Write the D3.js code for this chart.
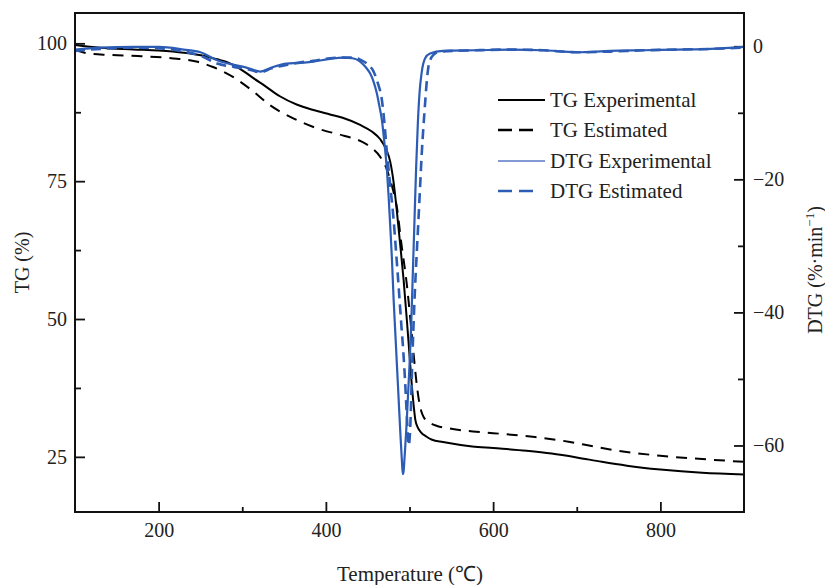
<!DOCTYPE html>
<html>
<head>
<meta charset="utf-8">
<script src="https://cdn.jsdelivr.net/npm/d3@7"></script>
<style>
  html, body { margin: 0; padding: 0; background: #fff; }
  svg { display: block; }
  text { font-family: "Liberation Serif", "Times New Roman", serif; fill: #222; }
</style>
</head>
<body>
<svg id="chart" width="825" height="585"></svg>
<script>
// ---------------- DATA ----------------
// [temperature °C, TG %]
const tgExperimental = [
  [100, 99.7], [130, 99.2], [170, 98.9], [200, 98.7], [230, 98.3], [255, 97.7],
  [270, 97.1], [282, 96.6], [295, 95.6], [305, 94.6], [315, 93.5], [325, 92.5],
  [345, 90.4], [365, 88.9], [385, 87.9], [405, 87.1], [420, 86.5], [441, 85.2],
  [455, 84.0], [465, 82.6], [472, 80.8], [477, 78.5], [481, 74.8], [485, 69.4],
  [489, 63.3], [493, 57.0], [497, 49.5], [500, 43.5], [503, 37.5], [505, 34.3],
  [507, 31.7], [510, 30.3], [514, 29.4], [520, 28.7], [527, 28.1], [540, 27.7],
  [575, 26.9], [600, 26.6], [640, 26.1], [670, 25.6], [700, 24.9], [730, 24.1],
  [760, 23.4], [800, 22.7], [850, 22.1], [900, 21.8]
];
const tgEstimated = [
  [100, 98.8], [115, 98.2], [140, 97.9], [175, 97.7], [215, 97.3], [245, 96.7],
  [265, 95.7], [290, 93.8], [313, 91.3], [333, 88.8], [361, 86.4], [389, 84.6],
  [420, 83.3], [441, 82.3], [455, 81.0], [465, 79.4], [472, 77.5], [477, 75.2],
  [481, 73.0], [485, 70.2], [490, 64.0], [497, 56.0], [501, 50.0], [505, 43.5],
  [508, 39.0], [511, 35.5], [514, 33.3], [517, 32.2], [525, 31.1], [533, 30.6],
  [550, 30.1], [576, 29.6], [600, 29.3], [650, 28.6], [692, 27.7], [720, 26.9],
  [750, 26.1], [800, 25.2], [850, 24.6], [900, 24.1]
];
// [temperature °C, DTG %/min]
const dtgExperimental = [
  [100, -0.5], [130, -0.2], [170, -0.1], [200, -0.1], [230, -0.5], [250, -0.9],
  [270, -2.1], [290, -2.8], [305, -3.2], [322, -3.8], [335, -3.2], [353, -2.6],
  [370, -2.5], [385, -2.3], [405, -1.9], [420, -1.7], [432, -1.8], [441, -2.3],
  [448, -3.2], [453, -4.1], [457, -5.3], [461, -7.1], [464, -9.0], [467, -11.1],
  [470, -14.5], [473, -18.6], [475, -22.5], [477, -27.1], [479, -32.0], [481, -38.0],
  [483, -43.0], [485, -48.0], [487, -53.0], [489, -58.0], [491, -62.5], [492, -64.3],
  [493, -63.8], [494, -62.0], [496, -58.0], [498, -53.0], [500, -48.0], [502, -42.0],
  [504, -34.0], [506, -26.0], [508, -18.0], [510, -11.5], [512, -7.0], [514.5, -4.0],
  [518.7, -1.8], [524.6, -1.1], [540, -0.7], [580, -0.6], [620, -0.5], [660, -0.6],
  [700, -0.9], [740, -0.7], [780, -0.6], [820, -0.5], [860, -0.4], [900, -0.1]
];
const dtgEstimated = [
  [100, -0.7], [130, -0.4], [170, -0.2], [200, -0.3], [230, -0.8], [250, -1.4],
  [270, -2.6], [290, -3.1], [305, -3.4], [322, -3.9], [335, -3.3], [353, -2.8],
  [370, -2.4], [385, -2.2], [405, -1.8], [420, -1.7], [432, -1.7], [441, -2.0],
  [449, -2.6], [457, -3.8], [462, -5.5], [467, -8.1], [470, -11.5], [473, -16.0],
  [477, -21.0], [481, -26.1], [484, -31.0], [487, -36.1], [490, -41.5], [492.7, -46.1],
  [495, -51.0], [497, -56.0], [499, -60.0], [501, -57.0], [502.7, -50.0], [504.5, -43.0],
  [506.7, -36.1], [508.7, -31.0], [510.7, -26.1], [512.7, -21.0], [514.7, -16.0],
  [516.7, -12.0], [518.7, -8.5], [520.5, -5.5], [522.6, -3.1], [525, -2.0],
  [528.6, -1.3], [536.6, -0.8], [580, -0.6], [620, -0.5], [660, -0.6], [700, -0.9],
  [740, -0.8], [780, -0.6], [820, -0.5], [860, -0.4], [900, -0.2]
];

const xMajorTicks = [200, 400, 600, 800];
const xMinorTicks = [300, 500, 700];
const tgMajorTicks = [25, 50, 75, 100];
const tgMinorTicks = [37.5, 62.5, 87.5];
const dtgMajorTicks = [0, -20, -40, -60];
const dtgMinorTicks = [-10, -30, -50];

const legendLabels = ["TG Experimental", "TG Estimated", "DTG Experimental", "DTG Estimated"];

// ---------------- CHART ----------------
const svg = d3.select("#chart");
const L = 75, R = 744, T = 13, B = 512;
const blue = "#2c5cb4";

const x = d3.scaleLinear().domain([100, 900]).range([L, R]);
const yTG = d3.scaleLinear().domain([15, 105.5]).range([B, T]);
const yDTG = d3.scaleLinear().domain([-70, 5]).range([B, T]);

svg.append("defs").append("clipPath").attr("id", "plotclip")
  .append("rect").attr("x", L).attr("y", T).attr("width", R - L).attr("height", B - T);

const fmtMinus = d => (d < 0 ? "\u2212" + Math.abs(d) : String(d));

function styleAxis(g) {
  g.select(".domain").remove();
  g.selectAll(".tick line").attr("stroke", "#111").attr("stroke-width", 1.8);
  g.selectAll(".tick text").style("font-size", "20px").attr("fill", "#222");
}

// bottom axis
svg.append("g").attr("transform", `translate(0,${B})`)
  .call(d3.axisBottom(x).tickValues(xMajorTicks).tickSize(-10).tickPadding(11).tickFormat(d3.format("d")))
  .call(styleAxis);
svg.append("g").attr("transform", `translate(0,${B})`)
  .call(d3.axisBottom(x).tickValues(xMinorTicks).tickSize(-5).tickFormat(""))
  .call(styleAxis);

// left axis
svg.append("g").attr("transform", `translate(${L},0)`)
  .call(d3.axisLeft(yTG).tickValues(tgMajorTicks).tickSize(-10).tickPadding(8).tickFormat(d3.format("d")))
  .call(styleAxis);
svg.append("g").attr("transform", `translate(${L},0)`)
  .call(d3.axisLeft(yTG).tickValues(tgMinorTicks).tickSize(-6).tickFormat(""))
  .call(styleAxis);

// right axis
svg.append("g").attr("transform", `translate(${R},0)`)
  .call(d3.axisRight(yDTG).tickValues(dtgMajorTicks).tickSize(-10).tickPadding(9).tickFormat(fmtMinus))
  .call(styleAxis);
svg.append("g").attr("transform", `translate(${R},0)`)
  .call(d3.axisRight(yDTG).tickValues(dtgMinorTicks).tickSize(-6).tickFormat(""))
  .call(styleAxis);

// curves
const plot = svg.append("g").attr("clip-path", "url(#plotclip)");
const lineTG = d3.line().x(d => x(d[0])).y(d => yTG(d[1])).curve(d3.curveMonotoneX);
const lineDTG = d3.line().x(d => x(d[0])).y(d => yDTG(d[1])).curve(d3.curveMonotoneX);

plot.append("path").datum(tgExperimental).attr("d", lineTG)
  .attr("fill", "none").attr("stroke", "#000").attr("stroke-width", 2);
plot.append("path").datum(tgEstimated).attr("d", lineTG)
  .attr("fill", "none").attr("stroke", "#000").attr("stroke-width", 2)
  .attr("stroke-dasharray", "11,8");
plot.append("path").datum(dtgExperimental).attr("d", lineDTG)
  .attr("fill", "none").attr("stroke", blue).attr("stroke-width", 2.2);
plot.append("path").datum(dtgEstimated).attr("d", lineDTG)
  .attr("fill", "none").attr("stroke", blue).attr("stroke-width", 2.6)
  .attr("stroke-dasharray", "10,6");

// frame
svg.append("rect").attr("x", L).attr("y", T).attr("width", R - L).attr("height", B - T)
  .attr("fill", "none").attr("stroke", "#111").attr("stroke-width", 2);

// legend
const legY = [100, 130, 161, 191];
const leg = svg.append("g");
const legStyles = [
  {stroke: "#000", w: 2, dash: null, x2: 545},
  {stroke: "#000", w: 2.4, dash: "14,7", x2: 533},
  {stroke: "#5a78c6", w: 1.3, dash: null, x2: 545},
  {stroke: blue, w: 2.6, dash: "14,7", x2: 533}
];
legendLabels.forEach((lab, i) => {
  const s = legStyles[i];
  leg.append("line").attr("x1", 498).attr("x2", s.x2).attr("y1", legY[i]).attr("y2", legY[i])
    .attr("stroke", s.stroke).attr("stroke-width", s.w).attr("stroke-dasharray", s.dash);
  leg.append("text").attr("x", 550).attr("y", legY[i]).attr("dy", "0.35em")
    .style("font-size", "21px").text(lab);
});

// axis titles
svg.append("text").attr("x", 410).attr("y", 581).attr("text-anchor", "middle")
  .style("font-size", "21px").text("Temperature (\u2103)");
svg.append("text").attr("transform", `translate(29,${(T + B) / 2}) rotate(-90)`)
  .attr("text-anchor", "middle").style("font-size", "20px").text("TG (%)");
const dt = svg.append("text").attr("transform", `translate(822,270) rotate(-90)`)
  .attr("text-anchor", "middle").style("font-size", "20px");
dt.append("tspan").text("DTG (%\u00B7min");
dt.append("tspan").attr("dy", -8).style("font-size", "13px").text("\u22121");
dt.append("tspan").attr("dy", 8).text(")");
</script>
</body>
</html>
